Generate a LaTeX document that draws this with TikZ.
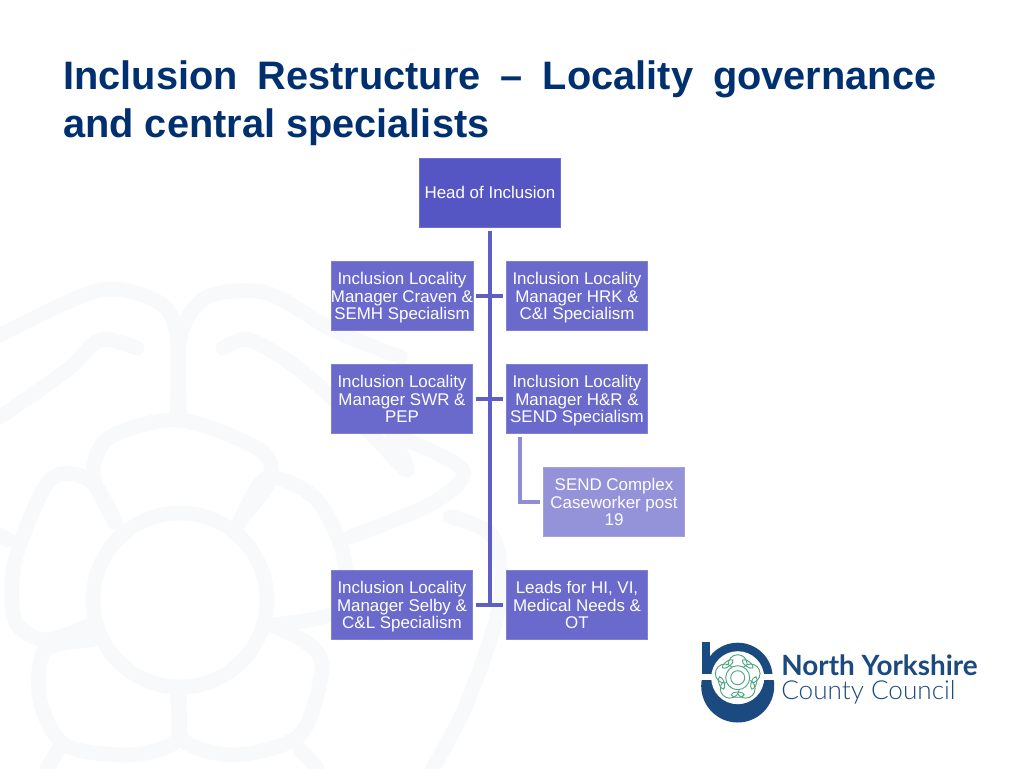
\documentclass[tikz,border=0pt]{standalone}
\usepackage{fontspec}
\setmainfont{Liberation Sans}
\newfontfamily\logofont{Lato}
\newfontfamily\logolight{Lato Light}
\newcommand{\tribox}[3]{\rule{0pt}{13pt}#1\\#2\\#3\strut}
\definecolor{titleblue}{HTML}{003070}
\definecolor{headfill}{HTML}{5556C4}
\definecolor{boxfill}{HTML}{6A69CC}
\definecolor{subfill}{HTML}{9492D8}
\definecolor{linemain}{HTML}{5F5EC6}
\definecolor{linesub}{HTML}{8F8DD6}
\definecolor{rosewm}{HTML}{F8F9FA}
\definecolor{logoblue}{HTML}{1B4A80}
\definecolor{logogreen}{HTML}{4DA77F}
\tikzset{
  x=0.75pt,y=-0.75pt,
  orgbox/.style={draw=#1!85!white,line width=0.5pt,fill=#1,text=white,minimum width=106pt,minimum height=52pt,inner sep=0pt,align=center,font=\fontsize{12.7}{13.15}\selectfont},
  conn/.style={draw=linemain,line width=3pt,shorten <=2.25pt,shorten >=2.25pt},
  connsub/.style={draw=linesub,line width=3pt,shorten <=2.25pt,shorten >=2.25pt},
  titletext/.style={text=titleblue,inner sep=0pt,anchor=base west,font=\fontsize{29.8}{30}\selectfont\bfseries},
  wm/.style={draw=rosewm,line width=11pt,line cap=round,line join=round},
  petal/.style={draw=logogreen,line width=0.7pt,fill=white},
}
\begin{document}
\begin{tikzpicture}
\useasboundingbox (0,0) rectangle (1024,768);
\fill[white] (0,0) rectangle (1024,768);
% watermark rose
\begin{scope}[wm]
\draw (180,600) circle (87);
\draw plot[smooth] coordinates {(115,522)(93,475)(110,437)(180,420)(260,450)(270,480)(240,520)};
\draw plot[smooth] coordinates {(115,522)(90,480)(50,480)(15,560)(15,620)(45,640)(90,625)};
\draw plot[smooth] coordinates {(92,640)(45,650)(40,700)(65,745)(130,755)(177,740)(177,695)};
\draw plot[smooth] coordinates {(180,695)(183,740)(235,755)(300,735)(322,670)(310,645)(272,625)};
\draw plot[smooth] coordinates {(240,522)(267,478)(315,498)(343,553)(340,610)(272,625)};
\draw plot[smooth] coordinates {(0,335)(100,290)(160,303)(177,337)(177,420)};
\draw plot[smooth] coordinates {(180,420)(180,337)(207,297)(267,293)(333,330)(400,357)};
\draw plot[smooth] coordinates {(0,417)(67,370)(100,340)(137,348)};
\draw plot[smooth] coordinates {(223,348)(250,340)(300,370)(367,430)(407,470)(393,437)};
\draw plot[smooth] coordinates {(400,437)(463,470)(433,503)(350,537)};
\draw plot[smooth] coordinates {(450,517)(493,537)(500,603)(467,703)(433,768)};
\draw (63,743) -- (47,768);
\draw (300,750) -- (317,768);
\draw (0,535) -- (8,540);
\end{scope}
% title
\node[titletext] (t1) at (63,89) {\hbox to 654.75pt{Inclusion\hfill Restructure\hfill –\hfill Locality\hfill governance}};
\node[titletext] (t2) at (63,137) {and central specialists};
% org chart
\node[orgbox=headfill] (head) at (490,193) {\rule{0pt}{12.2pt}Head of Inclusion\strut};
\node[orgbox=boxfill] (craven) at (402,296) {\tribox{Inclusion Locality}{Manager Craven \&}{SEMH Specialism}};
\node[orgbox=boxfill] (hrk) at (577,296) {\tribox{Inclusion Locality}{Manager HRK \&}{C\&I Specialism}};
\node[orgbox=boxfill] (swr) at (402,399) {\tribox{Inclusion Locality}{Manager SWR \&}{PEP}};
\node[orgbox=boxfill] (hr) at (577,399) {\tribox{Inclusion Locality}{Manager H\&R \&}{SEND Specialism}};
\node[orgbox=subfill] (send) at (614,502) {\tribox{SEND Complex}{Caseworker post}{19}};
\node[orgbox=boxfill] (selby) at (402,605) {\tribox{Inclusion Locality}{Manager Selby \&}{C\&L Specialism}};
\node[orgbox=boxfill] (leads) at (577,605) {\tribox{Leads for HI, VI,}{Medical Needs \&}{OT}};
\coordinate (trunkend) at (490,606.5);
\coordinate (elbowtop) at (519.5,434);
\draw[conn,shorten >=0pt] (head.south) -- (trunkend);
\draw[conn] (craven.east) -- (hrk.west);
\draw[conn] (swr.east) -- (hr.west);
\draw[conn] (selby.east) -- (leads.west);
\draw[connsub] (elbowtop) |- (send.west);
% logo
\begin{scope}
\fill[logoblue] (702,642) rectangle (710,673.5);
\begin{scope}
\clip (690,640) rectangle (780,673.5);
\fill[logoblue] (737.7,677.7) circle (35);
\end{scope}
\begin{scope}
\clip (690,680) rectangle (780,725);
\fill[logoblue] (737.7,686) circle (36.5);
\fill[white] (695,707) rectangle (702,725);
\end{scope}
\fill[white] (737.7,677.7) circle (26.5);
\foreach \a in {90,162,234,306,18}{
  \draw[petal] (737.7,677.7) ++(\a:-13.5) circle (9.5);
}
\fill[white] (737.7,677.7) circle (12.5);
\foreach \a in {90,162,234,306,18}{
  \begin{scope}[shift={(737.7,677.7)},rotate=\a]
  \draw[logogreen,line width=0.7pt] (-17,0) ellipse [x radius=2.6,y radius=6.5];
  \end{scope}
}
\draw[petal] (737.7,677.7) circle (12);
\draw[petal] (737.7,677.7) circle (7);
\end{scope}
\node[inner sep=0pt,anchor=base west,text=logoblue,font=\logofont\bfseries\fontsize{20.9}{21}\selectfont] (ny) at (781,675) {North Yorkshire};
\node[inner sep=0pt,anchor=base west,text=logoblue,font=\logolight\fontsize{19.6}{20}\selectfont] (cc) at (781,699.5) {County Council};
\end{tikzpicture}
\end{document}
